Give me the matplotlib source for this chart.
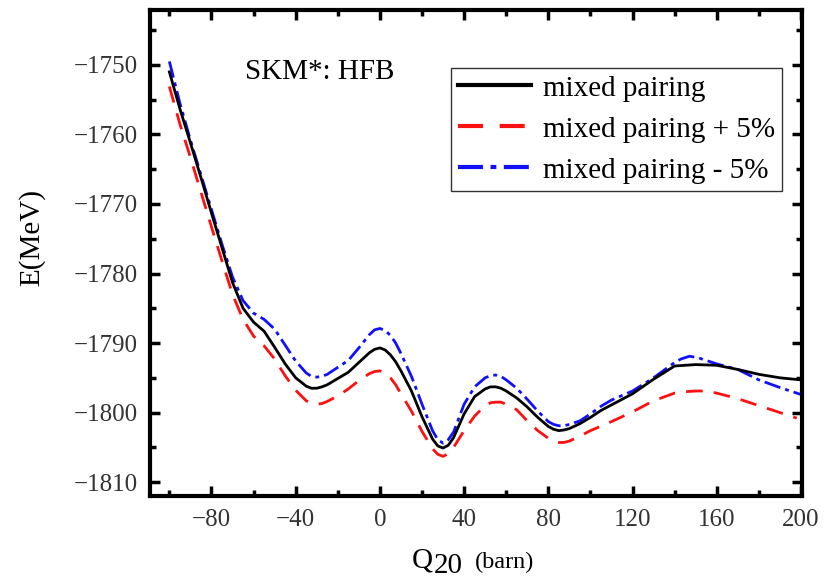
import matplotlib
matplotlib.use("Agg")
import matplotlib.pyplot as plt
from matplotlib.ticker import MultipleLocator

plt.rcParams['font.family'] = ['Liberation Serif', 'DejaVu Serif']

# ---- data ----
q_black = [-100, -95, -90, -85, -80, -75, -70, -65, -60, -55, -50, -45, -40, -35, -32.5, -30,
           -27.5, -25, -20, -15, -10, -5, -2.5, 0, 2.5, 5, 7.5, 10, 15, 20, 25, 27.5, 30, 32.5,
           35, 40, 45, 50, 52.5, 55, 57.5, 60, 65, 70, 75, 80, 82.5, 85, 87.5, 90, 95, 100,
           105, 110, 120, 130, 140, 150, 160, 170, 180, 190, 200]
e_black = [-1751.0, -1756.3, -1761.2, -1766.2, -1771.3, -1776.3, -1781.3, -1785.0, -1787.0,
           -1788.3, -1790.6, -1793.0, -1795.0, -1796.2, -1796.5, -1796.5, -1796.3, -1796.0,
           -1795.1, -1794.2, -1792.8, -1791.4, -1790.9, -1790.7, -1791.0, -1791.7, -1792.7,
           -1794.0, -1796.9, -1800.6, -1803.8, -1804.8, -1805.1, -1804.7, -1803.6, -1800.2,
           -1797.7, -1796.6, -1796.3, -1796.3, -1796.5, -1796.9, -1797.9, -1799.2, -1800.7,
           -1802.0, -1802.4, -1802.6, -1802.5, -1802.3, -1801.6, -1800.7, -1799.7, -1798.9,
           -1797.3, -1795.2, -1793.3, -1793.1, -1793.2, -1793.8, -1794.5, -1795.0, -1795.3]

q_plus = [-100, -95, -90, -85, -80, -75, -70, -65, -60, -55, -50, -45, -40, -35, -32.5, -30,
          -27.5, -25, -20, -15, -10, -5, -2.5, 0, 2.5, 5, 7.5, 10, 15, 20, 25, 27.5, 30, 32.5,
          35, 40, 45, 50, 52.5, 55, 57.5, 60, 65, 70, 75, 80, 82.5, 85, 87.5, 90, 95, 100,
          110, 120, 130, 140, 145, 150, 155, 160, 170, 180, 190, 198]
e_plus = [-1753.1, -1758.5, -1763.3, -1768.3, -1773.3, -1778.2, -1783.0, -1786.6, -1789.0,
          -1790.4, -1792.3, -1794.7, -1796.8, -1798.3, -1798.7, -1798.8, -1798.7, -1798.4,
          -1797.6, -1796.6, -1795.4, -1794.4, -1794.1, -1794.0, -1794.3, -1795.0, -1796.0,
          -1797.3, -1799.8, -1802.7, -1805.2, -1806.0, -1806.3, -1805.9, -1805.0, -1802.6,
          -1800.5, -1799.0, -1798.6, -1798.5, -1798.5, -1798.8, -1799.6, -1801.2, -1802.6,
          -1803.7, -1804.1, -1804.3, -1804.3, -1804.1, -1803.4, -1802.6, -1801.3, -1799.9,
          -1798.3, -1797.2, -1797.0, -1796.9, -1796.9, -1797.2, -1798.0, -1799.0, -1800.0,
          -1800.8]

q_minus = [-100, -95, -90, -85, -80, -75, -70, -65, -60, -55, -50, -45, -40, -35, -32.5, -30,
           -27.5, -25, -20, -15, -10, -5, -2.5, 0, 2.5, 5, 7.5, 10, 15, 20, 25, 27.5, 30, 32.5,
           35, 40, 45, 50, 52.5, 55, 57.5, 60, 65, 70, 75, 80, 82.5, 85, 87.5, 90, 95, 100,
           105, 110, 120, 130, 140, 143, 147, 151, 155, 160, 170, 180, 190, 200]
e_minus = [-1749.5, -1755.5, -1760.8, -1765.8, -1770.8, -1775.8, -1780.5, -1783.9, -1785.7,
           -1786.6, -1788.0, -1790.3, -1792.6, -1794.3, -1794.8, -1794.9, -1794.8, -1794.5,
           -1793.5, -1792.5, -1790.7, -1788.8, -1788.1, -1787.9, -1788.2, -1788.9, -1790.0,
           -1791.5, -1794.8, -1798.8, -1802.6, -1803.9, -1804.4, -1803.9, -1802.8, -1798.8,
           -1796.3, -1795.0, -1794.7, -1794.6, -1794.8, -1795.3, -1796.5, -1798.1, -1799.8,
           -1801.3, -1801.7, -1801.9, -1801.9, -1801.7, -1801.2, -1800.2, -1799.1, -1798.2,
           -1796.9, -1795.0, -1792.8, -1792.3, -1791.9, -1792.1, -1792.5, -1793.0, -1793.8,
           -1795.3, -1796.4, -1797.4]

labels = ["mixed pairing", "mixed pairing + 5%", "mixed pairing - 5%"]
x_ticks = [-80, -40, 0, 40, 80, 120, 160, 200]
y_ticks = [-1810, -1800, -1790, -1780, -1770, -1760, -1750]

W, H = 834, 578
fig = plt.figure(figsize=(W / 100, H / 100), dpi=100)
ax = fig.add_axes([150 / W, 1 - 496 / H, (802 - 150) / W, (496 - 10) / H])

ax.plot(q_black, e_black, color='black', lw=2.0, label=labels[0], zorder=3,
        solid_joinstyle='round')
ax.plot(q_plus, e_plus, color='#ff1010', lw=2.0, dashes=(6, 4), label=labels[1], zorder=2)
ax.plot(q_minus, e_minus, color='#1010ff', lw=2.0, dashes=(6, 1.8, 1.4, 1.8),
        label=labels[2], zorder=2)

ax.set_xlim(-109.2, 200.5)
ax.set_ylim(-1812.0, -1742.1)
ax.set_xticks(x_ticks)
ax.set_yticks(y_ticks)
ax.set_xticklabels([str(v).replace('-', '\u2212') for v in x_ticks])
ax.set_yticklabels([str(v).replace('-', '\u2212') for v in y_ticks])
ax.xaxis.set_minor_locator(MultipleLocator(20))
ax.yaxis.set_minor_locator(MultipleLocator(5))
ax.tick_params(which='both', direction='in', top=True, right=True, width=2.5,
               labelsize=18, labelcolor='#333333', pad=9)
ax.tick_params(which='major', length=7)
ax.tick_params(which='minor', length=4)
for s in ax.spines.values():
    s.set_linewidth(3)

fig.text(32 / W, 1 - 238 / H, "E(MeV)", rotation=90, ha='center', va='center', fontsize=21)

fig.text(245 / W, 1 - 72 / H, "SKM*: HFB", ha='left', va='center', fontsize=21)

# x label: Q20 (barn)
fig.text(412 / W, 1 - 567 / H, "Q", ha='left', va='baseline', fontsize=21)
fig.text(434 / W, 1 - 573 / H, "20", ha='left', va='baseline', fontsize=21)
fig.text(475 / W, 1 - 568 / H, "(barn)", ha='left', va='baseline', fontsize=17.5)

leg = ax.legend(loc='upper left', bbox_to_anchor=(451 / W, 1 - 68 / H),
                bbox_transform=fig.transFigure, fontsize=21, handlelength=2.5,
                handletextpad=0.4, labelspacing=0.5, borderpad=0.25, borderaxespad=0,
                fancybox=False, frameon=True)
leg.get_frame().set_edgecolor('black')
leg.get_frame().set_linewidth(1.0)
for ln in leg.get_lines():
    ln.set_linewidth(3.0)

fig.savefig("out.png", dpi=100)
